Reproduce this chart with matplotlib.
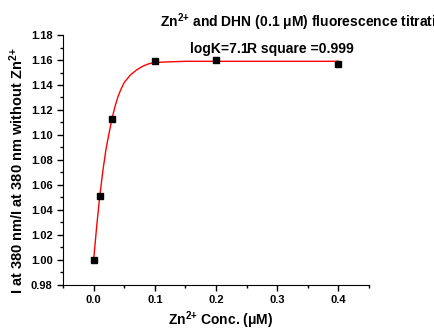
import matplotlib
matplotlib.use('Agg')
import matplotlib.pyplot as plt
from matplotlib.ticker import MultipleLocator

plt.rcParams['font.family'] = ['Liberation Sans', 'DejaVu Sans']
plt.rcParams['font.weight'] = 'bold'
plt.rcParams['mathtext.fontset'] = 'custom'
plt.rcParams['mathtext.bf'] = 'Liberation Sans:bold'
plt.rcParams['mathtext.rm'] = 'Liberation Sans:bold'
plt.rcParams['mathtext.it'] = 'Liberation Sans:bold'
plt.rcParams['mathtext.default'] = 'bf'

# measured points
conc = [0.0, 0.01, 0.03, 0.1, 0.2, 0.4]
ratio = [1.000, 1.051, 1.113, 1.159, 1.160, 1.157]

# fitted curve
fit_x = [0.0, 0.005, 0.01, 0.015, 0.02, 0.025, 0.03, 0.035, 0.04, 0.045, 0.05,
         0.06, 0.07, 0.08, 0.09, 0.1, 0.12, 0.15, 0.2, 0.3, 0.4]
fit_y = [1.000, 1.027, 1.051, 1.071, 1.088, 1.101, 1.113, 1.123, 1.131, 1.137, 1.142,
         1.148, 1.152, 1.155, 1.157, 1.158, 1.1585, 1.159, 1.159, 1.159, 1.159]

fig = plt.figure(figsize=(4.35, 3.31), dpi=100)
ax = fig.add_axes([0.145, 0.14, 0.703, 0.754])

ax.plot(fit_x, fit_y, color='red', lw=1)
ax.plot(conc, ratio, 's', color='black', ms=5)

ax.set_xlim(-0.05, 0.45)
ax.set_ylim(0.98, 1.18)
ax.xaxis.set_major_locator(MultipleLocator(0.1))
ax.xaxis.set_minor_locator(MultipleLocator(0.05))
ax.yaxis.set_major_locator(MultipleLocator(0.02))
ax.yaxis.set_minor_locator(MultipleLocator(0.01))
ax.set_xticks([0.0, 0.1, 0.2, 0.3, 0.4])
ax.set_xticklabels(['0.0', '0.1', '0.2', '0.3', '0.4'])
ax.set_yticklabels(['%.2f' % v for v in ax.get_yticks()])

ax.spines['right'].set_color('none')
ax.spines['top'].set_color('none')
ax.tick_params(which='major', direction='out', length=4, width=1, labelsize=8)
ax.tick_params(which='minor', direction='out', length=2.5, width=1)

sup = r'$^{2{+}}$'
fig.text(221/435, 1 - 320/331, 'Zn' + sup + r' Conc. ($\mu$M)',
         fontsize=10, fontweight='bold', ha='center', va='center')
fig.text(17/435, 1 - 171/331, 'I at 380 nm/I at 380 nm without Zn' + sup,
         fontsize=10.5, fontweight='bold', ha='center', va='center', rotation=90)

fig.text(160/435, 1 - 22/331, 'Zn' + sup + r' and DHN (0.1 $\mu$M) fluorescence titration',
         fontsize=10, fontweight='bold', va='center', ha='left')
fig.text(190/435, 1 - 49/331, 'logK=7.1', fontsize=10, fontweight='bold', va='center', ha='left')
fig.text(247/435, 1 - 49/331, 'R square =0.999', fontsize=10, fontweight='bold', va='center', ha='left')

fig.savefig('out.png', dpi=100)
